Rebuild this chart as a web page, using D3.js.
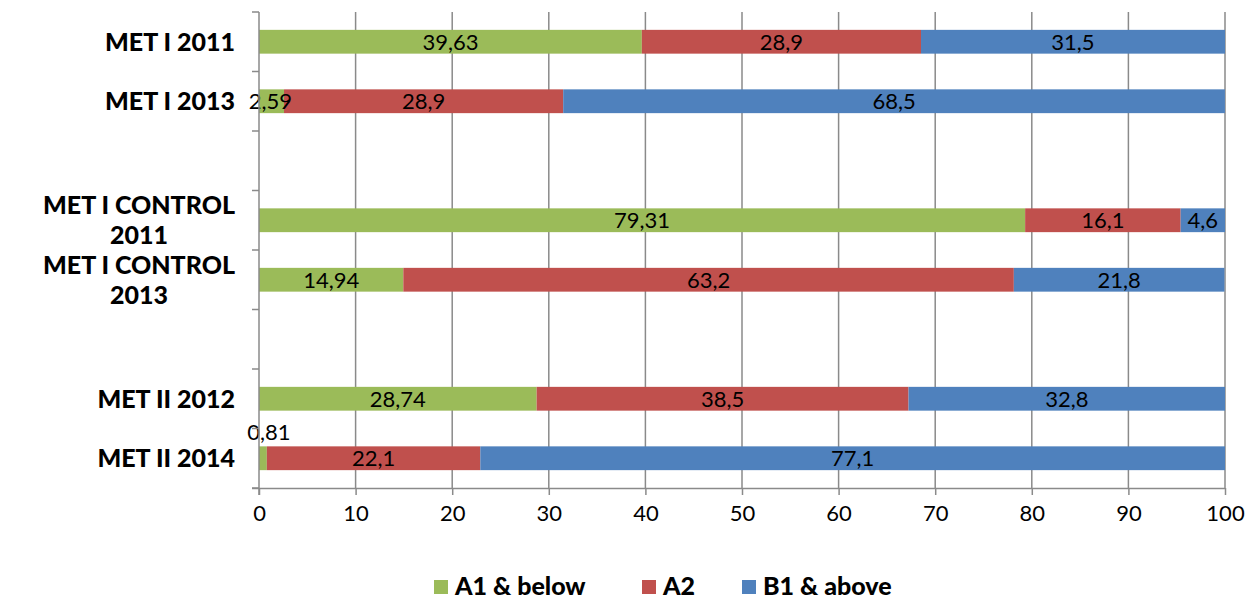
<!DOCTYPE html>
<html>
<head>
<meta charset="utf-8">
<script src="https://cdn.jsdelivr.net/npm/d3@7"></script>
<style>
  body { margin: 0; background: #fff; }
  svg { display: block; }
</style>
</head>
<body>
<svg id="chart" width="1258" height="601"></svg>
<script>
// Groups shown top to bottom; empty entries are spacer rows between groups
const categories = [
  ["MET I 2011"],
  ["MET I 2013"],
  [],
  ["MET I CONTROL", "2011"],
  ["MET I CONTROL", "2013"],
  [],
  ["MET II 2012"],
  ["MET II 2014"]
];
const seriesNames = ["A1 & below", "A2", "B1 & above"];
const seriesColors = ["#9BBB59", "#C0504D", "#4F81BD"];
const a1Below = [39.63, 2.59, null, 79.31, 14.94, null, 28.74, 0.81];
const a2 = [28.9, 28.9, null, 16.1, 63.2, null, 38.5, 22.1];
const b1Above = [31.5, 68.5, null, 4.6, 21.8, null, 32.8, 77.1];
const xTicks = [0, 10, 20, 30, 40, 50, 60, 70, 80, 90, 100];

const svg = d3.select("#chart");
const margin = { left: 259, right: 33, top: 12, bottom: 113 };
const W = 1258, H = 601;
const gridColor = "#8a8a8a";
const boldFont = "Lato, sans-serif";

const x = d3.scaleLinear().domain([0, 100]).range([margin.left, W - margin.right]);
const y = d3.scaleBand()
  .domain(categories.map((d, i) => i))
  .range([margin.top, H - margin.bottom])
  .paddingInner(0.6)
  .paddingOuter(0.3);

// Vertical gridlines
svg.append("g")
  .selectAll("line")
  .data(xTicks.slice(1))
  .join("line")
  .attr("x1", d => x(d)).attr("x2", d => x(d))
  .attr("y1", margin.top).attr("y2", H - margin.bottom)
  .attr("stroke", gridColor).attr("stroke-width", 1.5);

// Stacked bars
const rows = categories.map((c, i) => ({ i, vals: [a1Below[i], a2[i], b1Above[i]] }))
  .filter(r => r.vals[0] !== null);

const segs = [];
rows.forEach(r => {
  let acc = 0;
  r.vals.forEach((v, s) => {
    segs.push({ row: r.i, s, v, x0: acc, x1: Math.min(100, acc + v) });
    acc += v;
  });
});

svg.append("g")
  .selectAll("rect")
  .data(segs)
  .join("rect")
  .attr("x", d => x(d.x0))
  .attr("y", d => y(d.row))
  .attr("width", d => x(d.x1) - x(d.x0))
  .attr("height", y.bandwidth())
  .attr("fill", d => seriesColors[d.s]);

// Value labels; segments too thin to hold text get their label above the bar
const fmt = v => String(v).replace(".", ",");
svg.append("g")
  .selectAll("text")
  .data(segs)
  .join("text")
  .attr("x", d => {
    const cx = (x(d.x0) + x(d.x1)) / 2;
    return d.v < 1 ? cx + 6 : d.v < 3 ? cx - 1 : cx;
  })
  .attr("y", d => d.v < 1 ? y(d.row) - 14 : y(d.row) + y.bandwidth() / 2)
  .attr("dy", "0.36em")
  .attr("text-anchor", "middle")
  .attr("font-family", "Lato, 'Open Sans', sans-serif")
  .attr("font-size", 22)
  .attr("fill", "#000")
  .text(d => fmt(d.v));

// Y axis line and ticks at band boundaries
const yAxis = svg.append("g");
yAxis.append("line")
  .attr("x1", margin.left).attr("x2", margin.left)
  .attr("y1", margin.top).attr("y2", H - margin.bottom + 7)
  .attr("stroke", gridColor).attr("stroke-width", 1.5);
d3.range(categories.length + 1).forEach(k => {
  const yy = margin.top + k * y.step();
  yAxis.append("line")
    .attr("x1", margin.left - 7).attr("x2", margin.left)
    .attr("y1", yy).attr("y2", yy)
    .attr("stroke", gridColor).attr("stroke-width", 1.5);
});

// X axis
const xAxisG = svg.append("g")
  .attr("transform", `translate(0,${H - margin.bottom})`)
  .call(d3.axisBottom(x).tickValues(xTicks).tickSize(7).tickSizeOuter(0).tickPadding(10));
xAxisG.select(".domain").attr("stroke", gridColor).attr("stroke-width", 1.5)
  .attr("d", `M${margin.left - 7},0.5H${W - margin.right}`);
xAxisG.selectAll(".tick line").attr("stroke", gridColor).attr("stroke-width", 1.5);
xAxisG.selectAll(".tick text")
  .attr("font-family", "Lato, 'Open Sans', sans-serif")
  .attr("font-size", 22)
  .attr("fill", "#000");

// Category labels (bold, wrapped lines centred on each other, block right-aligned)
const catG = svg.append("g");
categories.forEach((lines, i) => {
  if (!lines.length) return;
  const cy = y(i) + y.bandwidth() / 2;
  const lh = 30;
  const t = catG.append("text")
    .attr("font-family", boldFont)
    .attr("font-weight", 900)
    .attr("font-size", 25)
    .attr("fill", "#000");
  lines.forEach((ln, k) => {
    t.append("tspan")
      .attr("y", cy + (k - (lines.length - 1) / 2) * lh)
      .attr("dy", "0.36em")
      .text(ln);
  });
  const spans = t.selectAll("tspan").nodes();
  const maxW = d3.max(spans.map(s => s.getComputedTextLength()));
  const right = 235;
  spans.forEach(s => {
    d3.select(s).attr("x", right - maxW / 2).attr("text-anchor", "middle");
  });
});

// Legend
const legendX = [434, 642, 742];
const legend = svg.append("g");
seriesNames.forEach((name, s) => {
  legend.append("rect")
    .attr("x", legendX[s]).attr("y", 580)
    .attr("width", 14).attr("height", 14)
    .attr("fill", seriesColors[s]);
  legend.append("text")
    .attr("x", legendX[s] + 21).attr("y", 586)
    .attr("dy", "0.36em")
    .attr("font-family", boldFont)
    .attr("font-weight", 900)
    .attr("font-size", 25)
    .attr("fill", "#000")
    .text(name);
});
</script>
</body>
</html>
